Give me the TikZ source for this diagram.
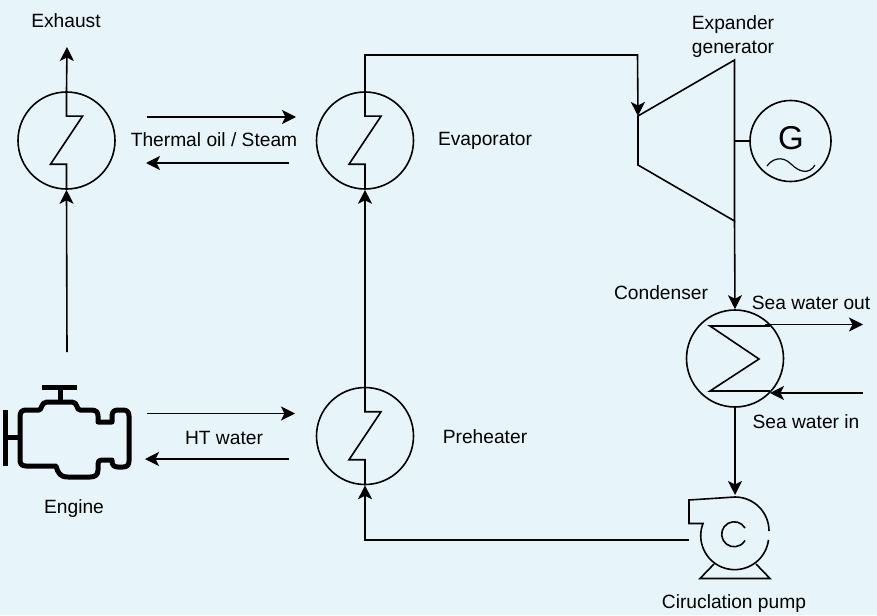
\documentclass[tikz,border=0pt]{standalone}
\usepackage{fontspec}
\setmainfont{Liberation Sans}
\usetikzlibrary{arrows.meta}
\definecolor{bgc}{RGB}{231,245,251}
\tikzset{
  lbl/.style={inner sep=0pt,font=\fontsize{19.2}{24}\selectfont,align=center},
  hx/.style={circle,draw,line width=1.6pt,inner sep=0pt,minimum size=97pt},
  pipe/.style={line width=1.6pt,-{Stealth[length=14pt,width=14pt,inset=3.5pt]}},
  line/.style={line width=1.6pt},
  fat/.style={line width=5pt,line join=round}
}
\begin{document}
\begin{tikzpicture}[x=1pt,y=-1pt]
\useasboundingbox (0,0) rectangle (877,615);
\fill[bgc] (0,0) rectangle (877,615);
% heat exchangers
\node[hx] (hxa) at (66.5,140.5) {};
\node[hx] (evap) at (365,140.5) {};
\node[hx] (pre) at (365,436) {};
\node[hx] (cond) at (735,358.5) {};
\node[circle,draw,line width=1.6pt,inner sep=0pt,minimum size=81pt] (gen) at (790.5,141) {};
\node[inner sep=0pt,font=\fontsize{33}{36}\selectfont] (gtxt) at (791,138) {G};
% zigzags
\draw[line] (hxa.north) -- ++(0,25) -- ++(16,0) -- ++(-32,48) -- ++(16,0) -- (hxa.south);
\draw[line] (evap.north) -- ++(0,25) -- ++(16,0) -- ++(-32,48) -- ++(16,0) -- (evap.south);
\draw[line] (pre.north) -- ++(0,25) -- ++(16,0) -- ++(-32,48) -- ++(16,0) -- (pre.south);
\draw[line,line join=miter] (770,326) -- (710,326) -- (759,359) -- (710,391) -- (770,391);
% turbine
\coordinate (tin) at (638,116);
\coordinate (ttop) at (734.5,60);
\coordinate (tbot) at (734.5,221);
\coordinate (tlow) at (638,165);
\coordinate (tshaft) at (734.5,141);
\draw[line] (tin) -- (ttop) -- (tbot) -- (tlow) -- cycle;
\draw[line] (tshaft) -- (gen.west);
\draw[line width=1.2pt] (767,166) .. controls (772,159) and (782,155) .. (791,164) .. controls (799,172) and (809,175) .. (815,165);
% pump
\coordinate (ppin) at (689,540);
\coordinate (pptop) at (735,500);
\draw[line,line join=miter] (769,531) arc[start angle=0,end angle=-90,radius=34] -- (689,500) -- (689,523.5) -- (703,523.5)
  arc[start angle=201,end angle=7,radius=34];
\draw[line] (745,528) arc[start angle=-30,end angle=-330,radius=12.5];
\draw[line,line join=miter] (714,564) -- (700,578.5) -- (770,578.5) -- (756,564);
% engine
\coordinate (engtop) at (67,352);
\draw[fat] (42,387) -- (77,387) (60,387) -- (60,402);
\draw[fat] (5,410) -- (5,466) (5,437) -- (20,437);
\draw[fat] (20,437) -- (20,417) .. controls (20,412) and (22,410) .. (26,410) -- (39,410) .. controls (42,410) and (41,402) .. (47,402)
  -- (72,402) .. controls (78,402) and (76,410) .. (80,410) -- (91,410) .. controls (96,410) and (98,412) .. (98,416) -- (98,422)
  -- (112,422) -- (112,416) .. controls (112,412) and (114,410) .. (118,410) -- (123,410) .. controls (127,410) and (129,412) .. (129,416)
  -- (129,461) .. controls (129,465) and (127,467) .. (123,467) -- (118,467) .. controls (114,467) and (112,465) .. (112,461)
  -- (112,460) -- (102,460) .. controls (99,460) and (98,461) .. (98,464) -- (98,470) .. controls (98,475) and (95,477) .. (90,477)
  -- (68,477) .. controls (60,477) and (58,473) .. (56,466) -- (26,466) .. controls (22,466) and (20,464) .. (20,460) -- cycle;
% connectors
\coordinate (exh) at (67,47);
\draw[pipe] (engtop) -- (hxa.south);
\draw[pipe] (hxa.north) -- (exh);
\coordinate (o1a) at (147,117); \coordinate (o1b) at (296,117);
\coordinate (o2a) at (289,163); \coordinate (o2b) at (146,163);
\coordinate (w1a) at (147,413.5); \coordinate (w1b) at (295,413.5);
\coordinate (w2a) at (289,459); \coordinate (w2b) at (145,459);
\draw[pipe] (o1a) -- (o1b);
\draw[pipe] (o2a) -- (o2b);
\draw[pipe] (w1a) -- (w1b);
\draw[pipe] (w2a) -- (w2b);
\draw[pipe] (pre.north) -- (evap.south);
\draw[pipe] (evap.north) |- (637.5,55) -- (tin);
\draw[pipe] (tbot) -- (cond.north);
\draw[pipe] (cond.south) -- (pptop |- 0,495);
\draw[pipe] (ppin) -| (pre.south);
\coordinate (swoa) at (765,324.5); \coordinate (swo) at (863,324.5);
\coordinate (swi) at (863,393); \coordinate (swib) at (770,393);
\draw[pipe] (swoa) -- (swo);
\draw[pipe] (swi) -- (swib);
% labels
\node[lbl] (l1) at (66,21) {Exhaust};
\node[lbl] (l2) at (214,140) {Thermal oil / Steam};
\node[lbl] (l3) at (485,141) {Evaporator};
\node[lbl] (l4) at (733,37) {Expander\\generator};
\node[lbl] (l5) at (661,293) {Condenser};
\node[lbl] (l6) at (811,303) {Sea water out};
\node[lbl] (l7) at (806,422) {Sea water in};
\node[lbl] (l8) at (734,604) {Ciruclation pump};
\node[lbl] (l9) at (74,509) {Engine};
\node[lbl] (l10) at (224,437.5) {HT water};
\node[lbl] (l11) at (485,437) {Preheater};
\end{tikzpicture}
\end{document}
